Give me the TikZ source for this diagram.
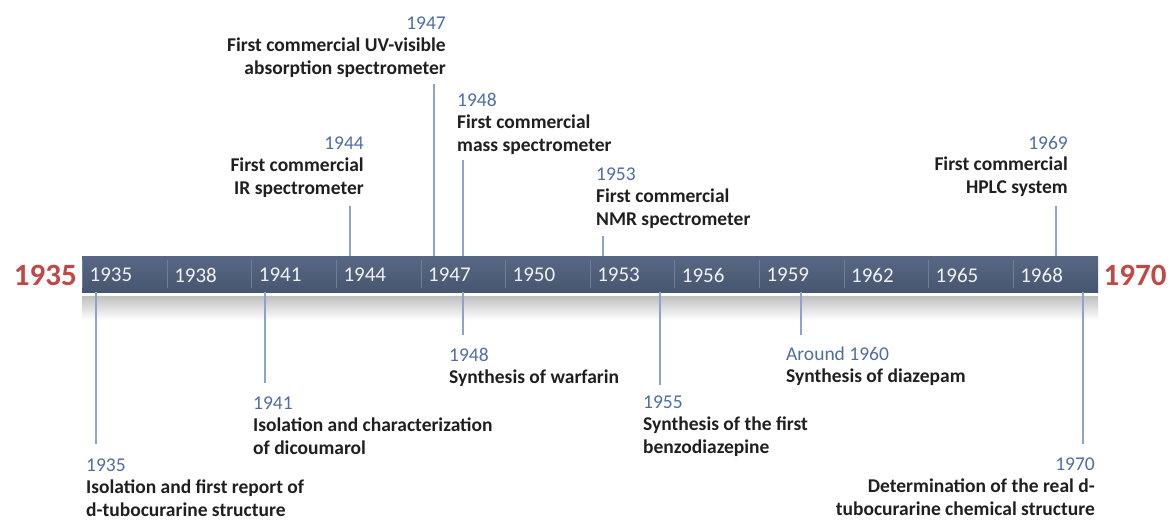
\documentclass[tikz,border=0pt]{standalone}
\usepackage{fontspec}
\setmainfont{Carlito}
\usetikzlibrary{calc}
\definecolor{barc}{RGB}{70,86,112}
\definecolor{barlight}{RGB}{88,104,132}
\definecolor{yearc}{RGB}{79,110,160}
\definecolor{linkc}{RGB}{140,164,204}
\definecolor{endc}{RGB}{192,72,70}
\tikzset{event/.style={inner sep=0pt,
    font=\fontsize{19.5}{23}\selectfont\bfseries, text=black!88},
  evleft/.style={event, anchor=north west, align=left},
  evright/.style={event, anchor=north east, align=right},
  link/.style={draw=linkc, line width=1.1pt},
  endyear/.style={inner sep=0pt, text=endc,
    font=\fontsize{31}{31}\selectfont\bfseries}}
\newcommand{\yr}[1]{{\mdseries\color{yearc}#1}\\[-1.5pt]}

\begin{document}
\begin{tikzpicture}[x=1pt,y=-1pt]
\useasboundingbox (0,0) rectangle (1170,520);
  % barre
\shade[top color=black!25, bottom color=white] (82,296) rectangle (1098,320);
\node[inner sep=0pt, minimum width=1016pt, minimum height=36pt, anchor=north west,
  top color=barlight, bottom color=barc] (bar) at (82,256) {};
\foreach \i [evaluate=\i as \yy using int(1935+3*\i)] in {0,...,11}
{
  \draw[barlight!85!white, line width=0.6pt, xshift=\i*84.6pt] (82.4,260) -- (82.4,288);
  \node[inner sep=0pt, anchor=west, text=white!92!barc,
    font=\fontsize{21}{21}\selectfont] (y\yy) at (89.5+\i*84.6,275) {\yy};
}
\node[endyear, anchor=east] (debut) at (bar.west) [xshift=-5pt,yshift=-1pt] {1935};
\node[endyear, anchor=west] (fin) at (bar.east) [xshift=5pt,yshift=-1pt] {1970};

  % au-dessus
\node[evright] (e44) at (364,137) {\yr{1944}First commercial\\IR spectrometer};
\node[evright] (e47) at (446,17) {\yr{1947}First commercial UV-visible\\absorption spectrometer};
\node[evleft] (e48a) at (457,93) {\yr{1948}First commercial\\mass spectrometer};
\node[evleft] (e53) at (596,168) {\yr{1953}First commercial\\NMR spectrometer};
\node[evright] (e69) at (1068,136) {\yr{1969}First commercial\\HPLC system};

\coordinate (c44) at (350,206);
\coordinate (c47) at (434,84);
\coordinate (c48a) at (463,160);
\coordinate (c53) at (603,236);
\coordinate (c69) at (1056,206);
\foreach \c in {c44,c47,c48a,c53,c69}
  \draw[link] (\c) -- (\c |- bar.north);

  % en dessous
\node[evleft] (e35) at (86,459) {\yr{1935}Isolation and first report of\\d-tubocurarine structure};
\node[evleft] (e41) at (253,397) {\yr{1941}Isolation and characterization\\of dicoumarol};
\node[evleft] (e48b) at (449,348) {\yr{1948}Synthesis of warfarin};
\node[evleft] (e55) at (643,396) {\yr{1955}Synthesis of the first\\benzodiazepine};
\node[evleft] (e60) at (786,347) {\yr{Around 1960}Synthesis of diazepam};
\node[evright] (e70) at (1095,458) {\yr{1970}Determination of the real d-\\tubocurarine chemical structure};

\coordinate (c35) at (96,444);
\coordinate (c41) at (265,383);
\coordinate (c48b) at (463,335);
\coordinate (c55) at (660,385);
\coordinate (c60) at (801,335);
\coordinate (c70) at (1083,444);
\foreach \c in {c35,c41,c48b,c55,c60,c70}
  \draw[link] (\c |- bar.south) -- (\c);
\end{tikzpicture}
\end{document}
